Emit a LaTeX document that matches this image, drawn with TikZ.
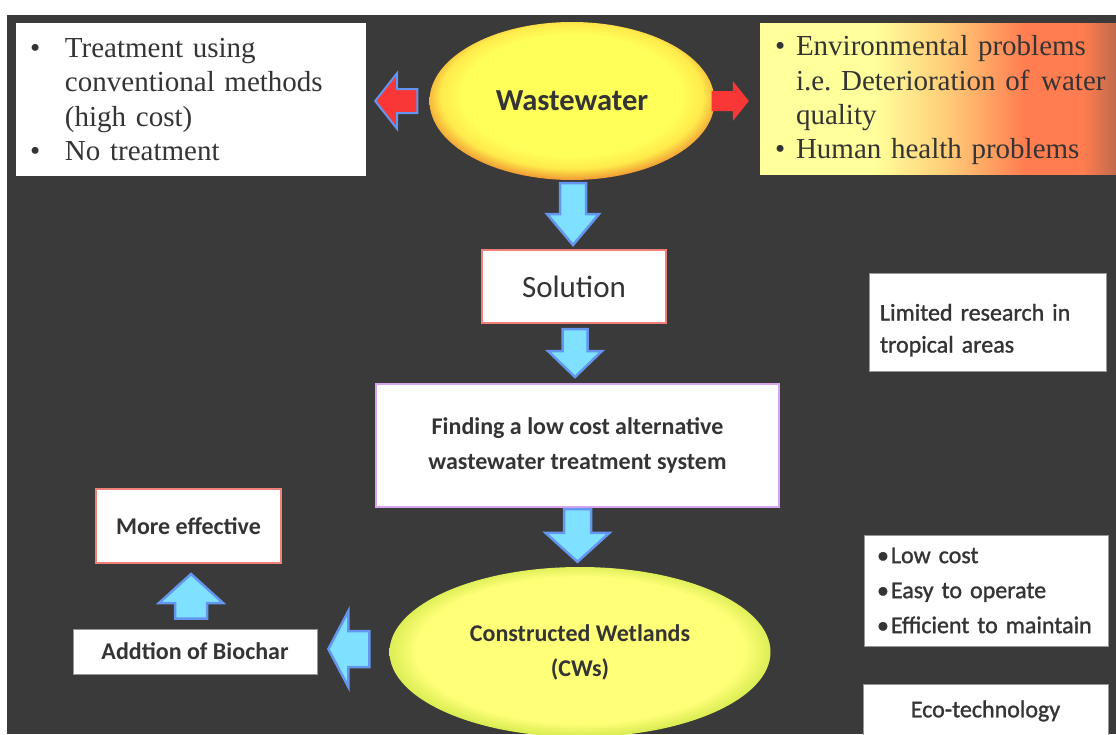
\documentclass[tikz,border=0pt]{standalone}
\usepackage{fontspec}
\setmainfont{Carlito}
\newfontfamily\boxserif{Liberation Serif}
\newfontfamily\notefont{Carlito}[FakeBold=1.2]
\usetikzlibrary{shapes.geometric,positioning,calc}
\frenchspacing

\definecolor{slide}{RGB}{58,58,58}
\definecolor{inktext}{RGB}{52,52,52}
\definecolor{skyfill}{RGB}{128,224,255}
\definecolor{skyedge}{RGB}{100,150,240}
\definecolor{redfill}{RGB}{250,55,55}
\definecolor{coralline}{RGB}{240,128,120}
\definecolor{lilacline}{RGB}{215,165,240}
\definecolor{greyline}{RGB}{150,150,150}
\definecolor{wasteIn}{RGB}{255,255,90}
\definecolor{wasteMid}{RGB}{255,235,75}
\definecolor{wasteRim}{RGB}{240,150,50}
\definecolor{cwIn}{RGB}{255,255,120}
\definecolor{cwRim}{RGB}{215,235,80}
\definecolor{paleYlw}{RGB}{255,255,155}
\definecolor{peach}{RGB}{255,205,120}
\definecolor{coralHot}{RGB}{255,125,80}
\definecolor{rustEdge}{RGB}{190,105,75}

\pgfdeclareradialshading{WasteShade}{\pgfpoint{0bp}{3bp}}{color(0bp)=(wasteIn);color(19bp)=(wasteIn);color(23bp)=(wasteMid);color(26.5bp)=(wasteRim);color(50bp)=(wasteRim)}
\pgfdeclareradialshading{CwShade}{\pgfpoint{0bp}{1bp}}{color(0bp)=(cwIn);color(21.5bp)=(cwIn);color(25.5bp)=(cwRim);color(50bp)=(cwRim)}
\pgfdeclarehorizontalshading{ProbShade}{100bp}{color(0bp)=(paleYlw);color(25bp)=(paleYlw);color(41bp)=(paleYlw);color(51bp)=(peach);color(62bp)=(coralHot);color(70bp)=(coralHot);color(75bp)=(rustEdge);color(100bp)=(rustEdge)}

\tikzstyle{Oval} = [ellipse, inner sep=0pt, align=center, text=inktext]
\tikzstyle{Card} = [draw=greyline, line width=0.8pt, fill=white, rectangle, inner sep=0pt, align=center, text=inktext]
\tikzstyle{Note} = [Card, align=left, font=\notefont\fontsize{24}{35}\selectfont]
\tikzstyle{RoseBox} = [Card, draw=coralline, line width=2pt]
\tikzstyle{LilacBox} = [Card, draw=lilacline, line width=2pt]
\tikzstyle{Bullets} = [rectangle, inner ysep=0pt, align=left, text=inktext, font=\boxserif\fontsize{29}{34.2}\selectfont]
\tikzstyle{BlueArrow} = [fill=skyfill, draw=skyedge, line width=2.5pt]
\tikzstyle{RedArrow} = [fill=redfill, draw=skyedge, line width=2pt]
\tikzstyle{RedPlain} = [fill=redfill, draw=none]

% style, shaft half width, head half width, head length, tail, tip
\newcommand{\blockarrow}[6]{%
  \coordinate (ba tail) at #5;
  \coordinate (ba tip) at #6;
  \coordinate (ba neck) at ($(ba tip)!#4!(ba tail)$);
  \draw[#1] ($(ba tail)!#2!90:(ba tip)$) -- ($(ba neck)!#2!90:(ba tip)$)
    -- ($(ba neck)!#3!90:(ba tip)$) -- (ba tip)
    -- ($(ba neck)!#3!-90:(ba tip)$) -- ($(ba neck)!#2!-90:(ba tip)$)
    -- ($(ba tail)!#2!-90:(ba tip)$) -- cycle;}

\begin{document}
\begin{tikzpicture}[x=1pt,y=-1pt]
        \tikzstyle{every node} = [font=\bfseries\fontsize{24}{35}\selectfont]

        \useasboundingbox (0,0) rectangle (1116,734);
        \fill[slide] (7,15) rectangle (1116,734);

        %%%%% Top Line %%%%%

        \draw (572,101) node[Oval, shading=WasteShade, minimum width=285pt, minimum height=158pt, font=\bfseries\fontsize{30.5}{36}\selectfont] (waste) {Wastewater};
        \draw node[Bullets, fill=white, text width=322pt, inner xsep=14pt, minimum height=153pt] at ($(waste)+(-381,-1.5)$) (treat)
            {\makebox[35pt][l]{\textbullet}Treatment using\\ \hspace*{35pt}conventional methods\\ \hspace*{35pt}(high cost)\\ \makebox[35pt][l]{\textbullet}No treatment};
        \draw node[Bullets, shading=ProbShade, text width=328pt, inner xsep=15pt, minimum height=151pt] at ($(waste)+(367,-2.5)$) (prob)
            {\rule{0pt}{23.6pt}\makebox[21pt][l]{\textbullet}Environmental problems\\ \hspace*{21pt}\mbox{i.e. Deterioration of\hspace{0.4em}water}\\ \hspace*{21pt}quality\\ \makebox[21pt][l]{\textbullet}Human health problems};

        %%%%% Middle Column %%%%%

        \draw node[RoseBox, minimum width=184pt, minimum height=73pt, font=\fontsize{31}{36}\selectfont] at ($(waste)+(2,185.5)$) (sol) {Solution};
        \draw node[LilacBox, minimum width=403pt, minimum height=123pt] at ($(sol)+(3.5,159)$) (find)
            {Finding a low cost alternative\\wastewater treatment system};
        \draw node[Oval, shading=CwShade, minimum width=381pt, minimum height=170pt] at ($(find)+(2.5,206.5)$) (cws)
            {Constructed Wetlands\\(CWs)};

        %%%%% Left Column %%%%%

        \draw node[Card, minimum width=244pt, minimum height=45pt] at ($(cws)+(-385,-0.5)$) (bio) {Addtion of Biochar};
        \draw node[RoseBox, minimum width=185pt, minimum height=74pt] at ($(bio)+(-6.5,-125.5)$) (more) {More effective};

        %%%%% Right Column %%%%%

        \draw node[Note, text width=215pt, inner xsep=11pt, minimum height=98pt, font=\notefont\fontsize{24}{32}\selectfont] at ($(sol)+(413.5,36)$) (limit)
            {\rule{0pt}{32pt}Limited research in\\tropical areas};
        \draw node[Note, text width=218pt, inner xsep=13pt, minimum height=111pt] at ($(limit)+(-1.5,268)$) (merits)
            {\textbullet\hspace{2pt}Low cost\\ \textbullet\hspace{2pt}Easy to operate\\ \textbullet\hspace{2pt}Efficient to maintain};
        \draw node[Note, align=center, minimum width=245pt, minimum height=54pt] at ($(merits)+(-0.5,120.5)$) (eco) {Eco-technology};

        %%%%% Block Arrows %%%%%

        \blockarrow{RedArrow}{12pt}{28pt}{22pt}{($(waste.west)+(-12,0)$)}{($(treat.east |- waste.west)+(9,0)$)}
        \blockarrow{RedPlain}{10pt}{20pt}{16pt}{($(waste.east)+(-3,0)$)}{($(prob.west |- waste.east)+(-11,0)$)}
        \blockarrow{BlueArrow}{13pt}{26pt}{31pt}{($(waste.south)+(1,3)$)}{($(waste.south |- sol.north)+(1,-4)$)}
        \blockarrow{BlueArrow}{12.5pt}{27pt}{26pt}{($(sol.south)+(1,5)$)}{($(sol.south |- find.north)+(1,-6)$)}
        \blockarrow{BlueArrow}{13.5pt}{32pt}{29pt}{($(find.south)+(0,1)$)}{($(find.south |- cws.north)+(0,-5)$)}
        \blockarrow{BlueArrow}{18pt}{38pt}{20pt}{($(cws.west)+(-20,-3)$)}{($(bio.east |- cws.west)+(11,-3)$)}
        \blockarrow{BlueArrow}{16pt}{32pt}{29pt}{($(bio.north)+(-4,-10)$)}{($(more.south)+(2.5,10)$)}

\end{tikzpicture}
\end{document}
